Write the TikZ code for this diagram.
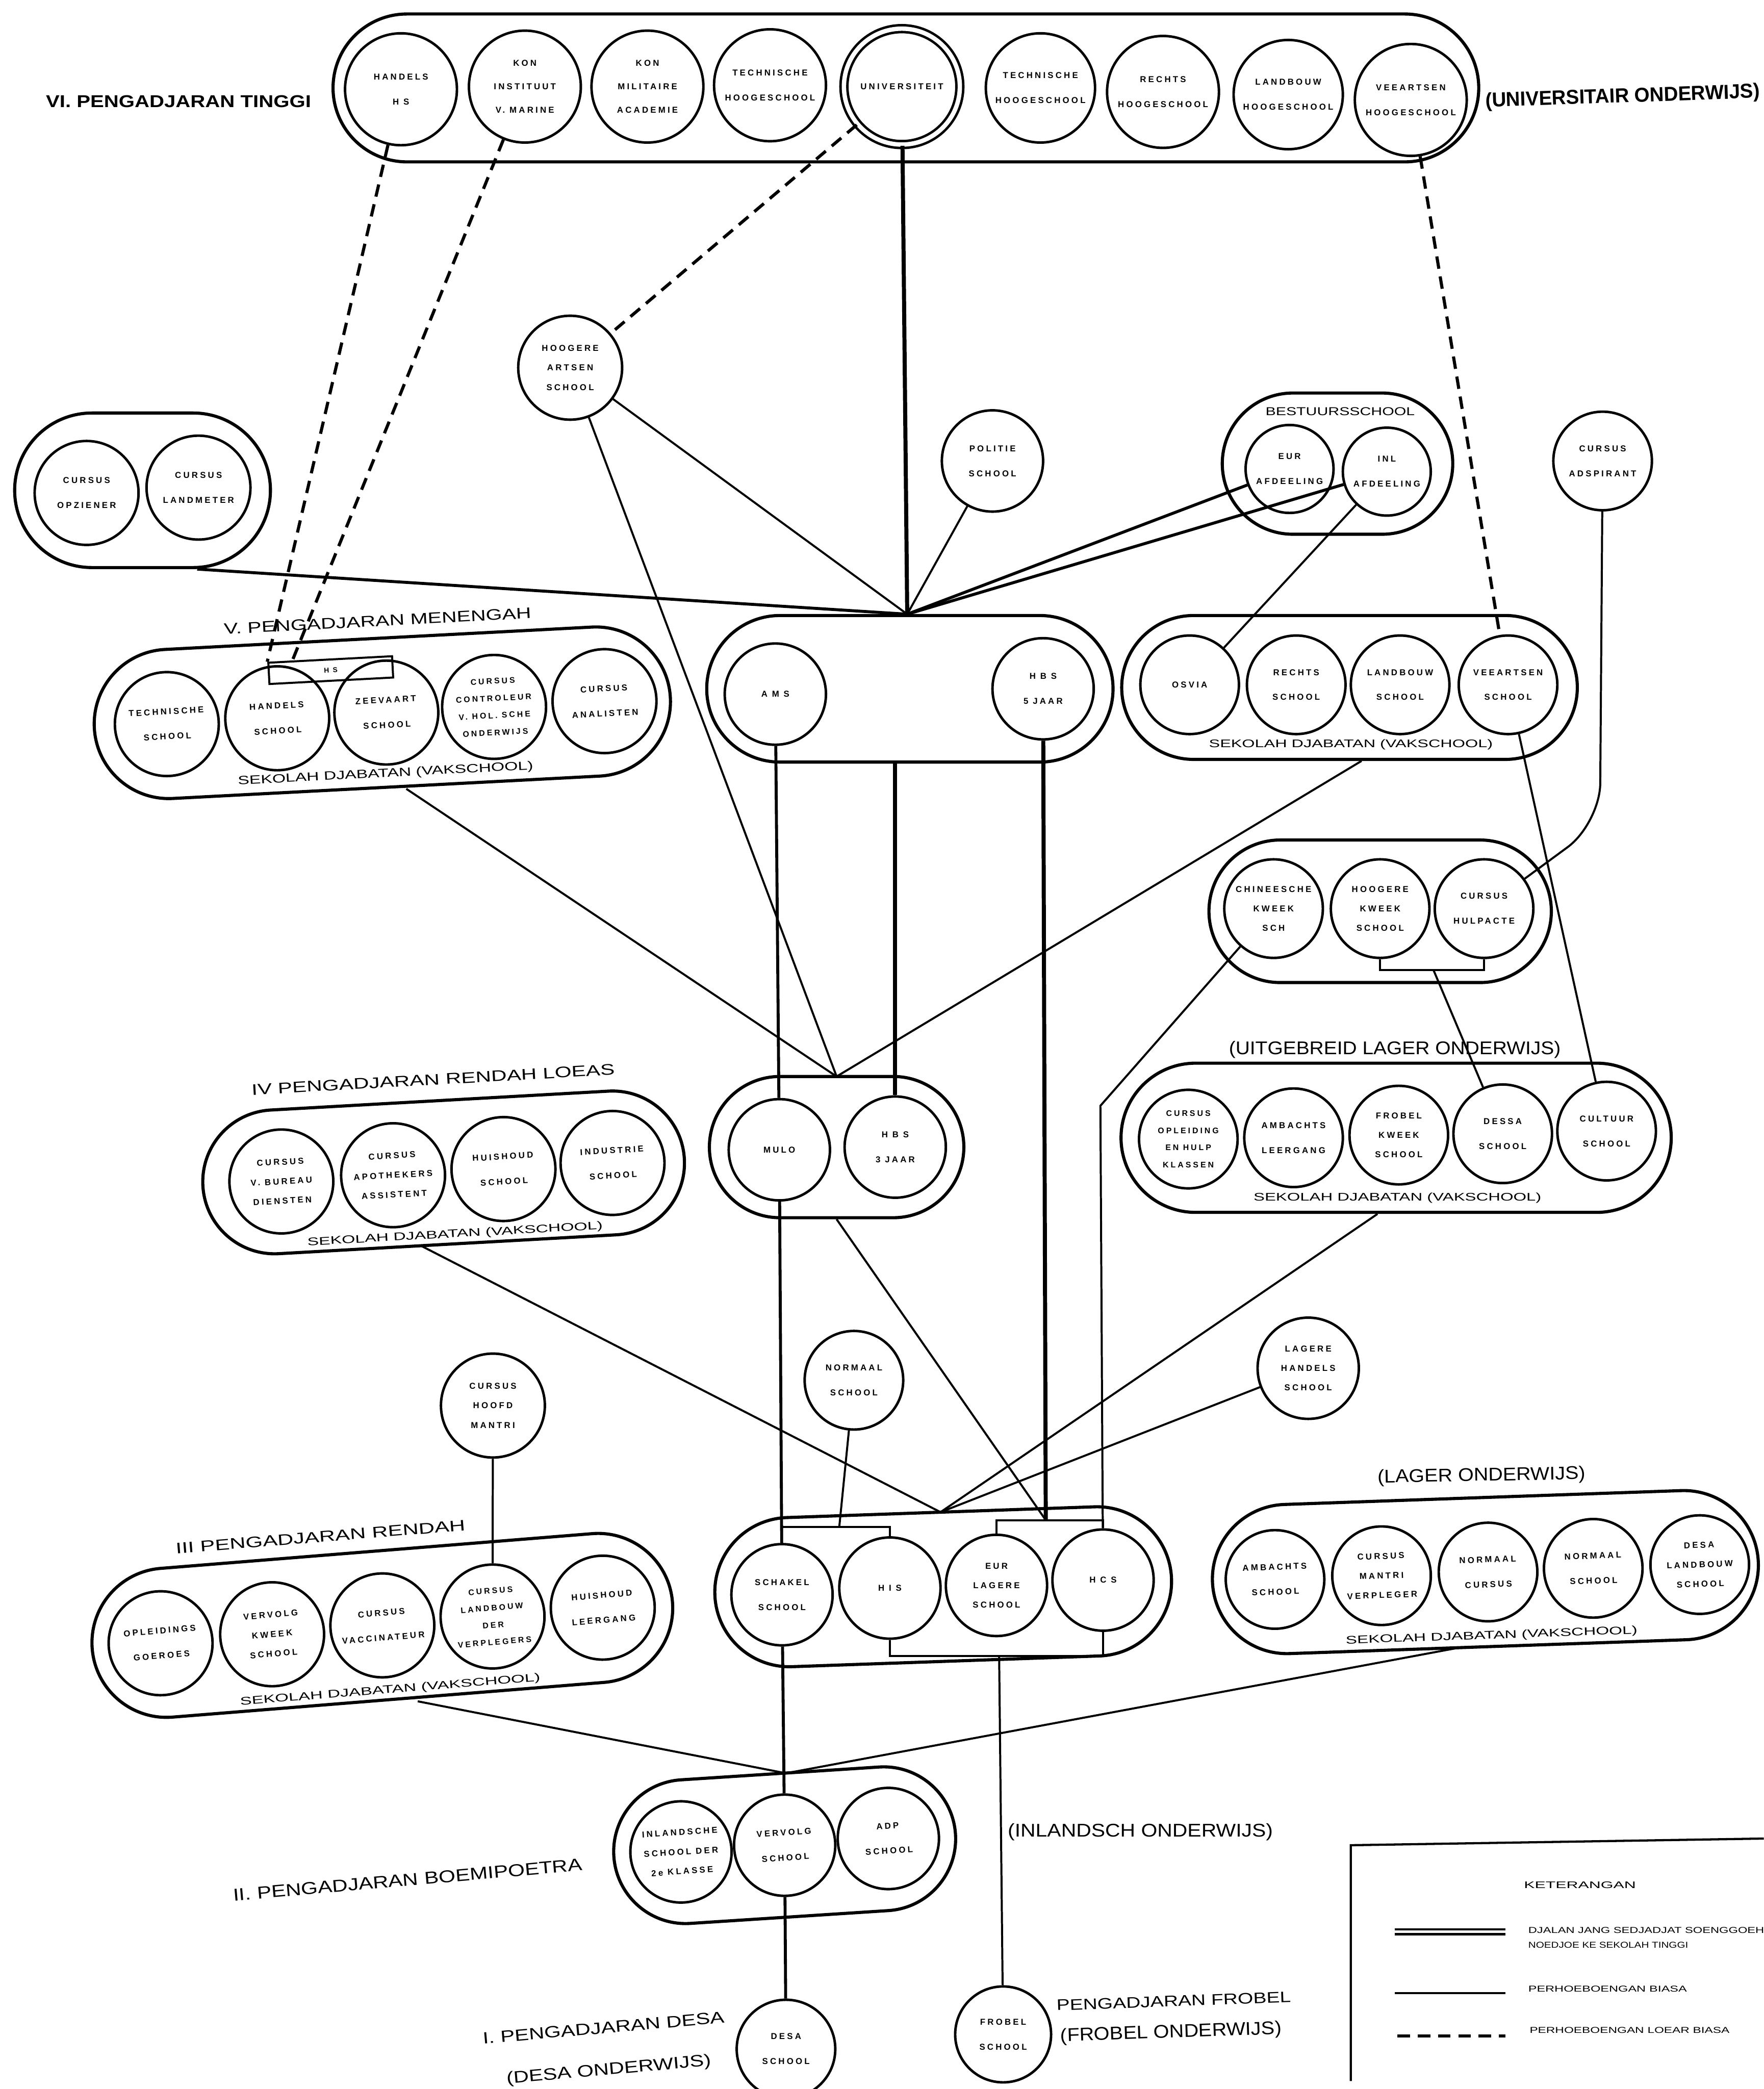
\documentclass[tikz,border=0pt]{standalone}
\usepackage{fontspec}
\setmainfont{Liberation Sans}
\newfontfamily\cf[LetterSpace=25]{Liberation Sans}
\usetikzlibrary{shapes.misc,calc}
\newlength\unitpx
\setlength\unitpx{0.03cm}
\newcommand\LB[3]{\resizebox{#1\unitpx}{#2\unitpx}{#3}}
\begin{document}
\begin{tikzpicture}[x=0.03cm,y=-0.03cm,
  circ/.style={circle,draw,line width=1.6pt,inner sep=0pt,minimum size=#1*0.06cm},
  cont/.style={rounded rectangle,draw,line width=2pt,inner sep=0pt},
  wd/.style={minimum width=#1*0.03cm},
  ht/.style={minimum height=#1*0.03cm},
  c1/.style={font=\cf\bfseries\fontsize{5.5}{12}\selectfont,align=center},
  c2/.style={font=\cf\bfseries\fontsize{5.5}{16}\selectfont,align=center},
  c3/.style={font=\cf\bfseries\fontsize{5.5}{12.5}\selectfont,align=center},
  c3t/.style={font=\cf\bfseries\fontsize{5.5}{15}\selectfont,align=center},
  c4/.style={font=\cf\bfseries\fontsize{5.2}{11}\selectfont,align=center},
  lab/.style={inner sep=0pt},
  ln/.style={line width=1.3pt},
  mid/.style={line width=1.9pt},
  thk/.style={line width=2.6pt},
  dsh/.style={line width=2pt,dash pattern=on 8pt off 5pt}]
\fill[white] (0,0) rectangle (1324,1568);
\useasboundingbox (0,0) rectangle (1324,1568);

% ---------- VI. Pengadjaran tinggi
\node[cont,wd=860,ht=111] (top) at (680,66) {};
\node[circ=42,label={[c2]center:HANDELS\\H S}] (handels) at (301,67) {};
\node[circ=42,label={[c3t]center:KON\\INSTITUUT\\V. MARINE}] (koninst) at (394,65) {};
\node[circ=42,label={[c3t]center:KON\\MILITAIRE\\ACADEMIE}] (konmil) at (486,65) {};
\node[circ=42,label={[c2]center:TECHNISCHE\\HOOGESCHOOL}] (tech1) at (578,64) {};
\node[circ=43.5,double,double distance=2.8pt,label={[c1]center:UNIVERSITEIT}] (univ) at (677,65) {};
\node[circ=41,label={[c2]center:TECHNISCHE\\HOOGESCHOOL}] (tech2) at (781,66) {};
\node[circ=42,label={[c2]center:RECHTS\\HOOGESCHOOL}] (rechts) at (873,69) {};
\node[circ=41,label={[c2]center:LANDBOUW\\HOOGESCHOOL}] (landb) at (967,71) {};
\node[circ=42,label={[c2]center:VEEARTSEN\\HOOGESCHOOL}] (vhs) at (1059,75) {};
\node[lab] (tVI) at (134,76) {\bfseries\LB{199}{9}{VI. PENGADJARAN TINGGI}};
\node[lab,rotate=2] (tUO) at (1218,73) {\bfseries\LB{206}{11}{(UNIVERSITAIR ONDERWIJS)}};

% ---------- between VI and V
\node[circ=39,label={[c3]center:HOOGERE\\ARTSEN\\SCHOOL}] (has) at (428,276) {};
\node[cont,wd=192,ht=116] (cur) at (107,368) {};
\node[circ=39,label={[c2]center:CURSUS\\OPZIENER}] (cur1) at (65,370) {};
\node[circ=39,label={[c2]center:CURSUS\\LANDMETER}] (cur2) at (149,366) {};
\node[circ=38,label={[c2]center:POLITIE\\SCHOOL}] (pol) at (745,346) {};
\node[cont,wd=173,ht=106] (best) at (1004,348) {};
\node[lab] (tBest) at (1006,309) {\LB{112}{6}{BESTUURSSCHOOL}};
\node[circ=33,label={[c2]center:EUR\\AFDEELING}] (eur) at (968,352) {};
\node[circ=33,label={[c2]center:INL\\AFDEELING}] (inl) at (1041,354) {};
\node[circ=37,label={[c2]center:CURSUS\\ADSPIRANT}] (crs) at (1203,346) {};
\coordinate (hub) at (681,461);

% ---------- V. Pengadjaran menengah (left)
\begin{scope}[shift={(287,535)},rotate=3,transform shape]
\node[cont,wd=433,ht=112] (vl) at (0,0) {};
\node[circ=39,label={[c2]center:TECHNISCHE\\SCHOOL}] (vl1) at (-162,0) {};
\node[circ=39,label={[c2]center:HANDELS\\SCHOOL}] (vl2) at (-79,0) {};
\node[circ=39,label={[c2]center:ZEEVAART\\SCHOOL}] (vl3) at (3,0) {};
\node[circ=39,label={[c4]center:CURSUS\\CONTROLEUR\\V. HOL. SCHE\\ONDERWIJS}] (vl4) at (84,0) {};
\node[circ=39,label={[c2]center:CURSUS\\ANALISTEN}] (vl5) at (167,0) {};
\node[draw,line width=1.3pt,minimum width=93*0.03cm,minimum height=16*0.03cm,inner sep=0pt,font=\cf\bfseries\fontsize{4.5}{5}\selectfont] (mhs) at (-37,-34) {H S};
\node[lab] (tV) at (0,-69) {\LB{231}{8}{V. PENGADJARAN MENENGAH}};
\node[lab] (sV) at (0,46) {\LB{222}{6.5}{SEKOLAH DJABATAN (VAKSCHOOL)}};
\end{scope}

% ---------- V middle
\node[cont,wd=305,ht=110] (vmid) at (683,517) {};
\node[circ=38,label={[c1]center:A M S}] (ams) at (582,521) {};
\node[circ=38,label={[c2]center:H B S\\5 JAAR}] (hbs5) at (783,517) {};

% ---------- V right
\node[cont,wd=342,ht=108] (vr) at (1013,516) {};
\node[circ=37,label={[c1]center:OSVIA}] (osvia) at (893,514) {};
\node[circ=37,label={[c2]center:RECHTS\\SCHOOL}] (vr2) at (973,514) {};
\node[circ=37,label={[c2]center:LANDBOUW\\SCHOOL}] (vr3) at (1051,514) {};
\node[circ=37,label={[c2]center:VEEARTSEN\\SCHOOL}] (vs) at (1132,514) {};
\node[lab] (sVr) at (1014,559) {\LB{213}{6}{SEKOLAH DJABATAN (VAKSCHOOL)}};

% ---------- upper uitgebreid group
\node[cont,wd=257,ht=107] (uu) at (1036,684) {};
\node[circ=37,label={[c3]center:CHINEESCHE\\KWEEK\\SCH}] (chin) at (956,682) {};
\node[circ=37,label={[c3]center:HOOGERE\\KWEEK\\SCHOOL}] (hkw) at (1036,682) {};
\node[circ=37,label={[c2]center:CURSUS\\HULPACTE}] (hulp) at (1114,682) {};
\coordinate (brU) at (1076,728);
\coordinate (crsB) at (1201,618);
\coordinate (bendC) at (826,830);

% ---------- MULO
\node[cont,wd=191,ht=106] (mc) at (628,861) {};
\node[circ=38,label={[c1]center:MULO}] (mulo) at (585,863) {};
\node[circ=38,label={[c2]center:H B S\\3 JAAR}] (hbs3) at (672,861) {};
\coordinate (P1) at (628,808);

% ---------- IV left
\begin{scope}[shift={(333,880)},rotate=3.2,transform shape]
\node[cont,wd=362,ht=108] (ivl) at (0,0) {};
\node[circ=39,label={[c3]center:CURSUS\\V. BUREAU\\DIENSTEN}] (ivl1) at (-122,0) {};
\node[circ=39,label={[c3]center:CURSUS\\APOTHEKERS\\ASSISTENT}] (ivl2) at (-38,0) {};
\node[circ=39,label={[c2]center:HUISHOUD\\SCHOOL}] (ivl3) at (45,0) {};
\node[circ=39,label={[c2]center:INDUSTRIE\\SCHOOL}] (ivl4) at (127,0) {};
\node[lab] (tIV) at (-4,-70) {\LB{273}{8}{IV PENGADJARAN RENDAH LOEAS}};
\node[lab] (sIV) at (6,47) {\LB{222}{6}{SEKOLAH DJABATAN (VAKSCHOOL)}};
\end{scope}

% ---------- IV right
\node[cont,wd=413,ht=112] (ivr) at (1048,854) {};
\node[circ=37,label={[c4]center:CURSUS\\OPLEIDING\\EN HULP\\KLASSEN}] (ivr1) at (892,855) {};
\node[circ=37,label={[c2]center:AMBACHTS\\LEERGANG}] (ivr2) at (971,854) {};
\node[circ=37,label={[c3]center:FROBEL\\KWEEK\\SCHOOL}] (ivr3) at (1050,852) {};
\node[circ=37,label={[c2]center:DESSA\\SCHOOL}] (d4) at (1128,851) {};
\node[circ=37,label={[c2]center:CULTUUR\\SCHOOL}] (cult) at (1206,849) {};
\node[lab] (tUL) at (1047,788) {\LB{249}{10}{(UITGEBREID LAGER ONDERWIJS)}};
\node[lab] (sIVr) at (1049,899) {\LB{216}{6}{SEKOLAH DJABATAN (VAKSCHOOL)}};

% ---------- single circles
\node[circ=38,label={[c3]center:LAGERE\\HANDELS\\SCHOOL}] (lhs) at (982,1027) {};
\node[circ=37,label={[c2]center:NORMAAL\\SCHOOL}] (normaal) at (641,1036) {};
\node[circ=39,label={[c3]center:CURSUS\\HOOFD\\MANTRI}] (chd) at (370,1055) {};

% ---------- III left
\begin{scope}[shift={(287,1220)},rotate=4.6,transform shape]
\node[cont,wd=437,ht=112] (iiil) at (0,0) {};
\node[circ=39,label={[c2]center:OPLEIDINGS\\GOEROES}] (iiil1) at (-167,0) {};
\node[circ=39,label={[c3]center:VERVOLG\\KWEEK\\SCHOOL}] (iiil2) at (-83,0) {};
\node[circ=39,label={[c2]center:CURSUS\\VACCINATEUR}] (iiil3) at (0,0) {};
\node[circ=39,label={[c4]center:CURSUS\\LANDBOUW\\DER\\VERPLEGERS}] (iiil4) at (83,0) {};
\node[circ=39,label={[c2]center:HUISHOUD\\LEERGANG}] (iiil5) at (166,0) {};
\node[lab] (tIII) at (-41,-70) {\LB{218}{8}{III PENGADJARAN RENDAH}};
\node[lab] (sIII) at (2,49) {\LB{226}{6}{SEKOLAH DJABATAN (VAKSCHOOL)}};
\end{scope}

% ---------- III middle
\node[cont,wd=343,ht=112,rotate=2] (iiim) at (708,1191) {};
\node[circ=38,label={[c2]center:SCHAKEL\\SCHOOL}] (schk) at (587,1197) {};
\node[circ=38,label={[c1]center:H I S}] (his) at (668,1192) {};
\node[circ=38,label={[c3]center:EUR\\LAGERE\\SCHOOL}] (els) at (748,1190) {};
\node[circ=38,label={[c1]center:H C S}] (hcs) at (828,1186) {};
\coordinate (brL) at (630,1146);
\coordinate (brR) at (785,1141);
\coordinate (brB) at (750,1243);
\coordinate (H3) at (706,1135);

% ---------- Lager onderwijs
\begin{scope}[shift={(1115,1180)},rotate=2,transform shape]
\node[cont,wd=410,ht=112] (lag) at (0,0) {};
\node[circ=37,label={[c2]center:AMBACHTS\\SCHOOL}] (lag1) at (-158,0) {};
\node[circ=37,label={[c3]center:CURSUS\\MANTRI\\VERPLEGER}] (lag2) at (-78,0) {};
\node[circ=37,label={[c2]center:NORMAAL\\CURSUS}] (lag3) at (2,0) {};
\node[circ=37,label={[c2]center:NORMAAL\\SCHOOL}] (lag4) at (81,0) {};
\node[circ=37,label={[c3]center:DESA\\LANDBOUW\\SCHOOL}] (lag5) at (161,0) {};
\node[lab] (sLag) at (3,48) {\LB{219}{6}{SEKOLAH DJABATAN (VAKSCHOOL)}};
\end{scope}
\node[lab,rotate=1] (tLag) at (1112,1108) {\LB{156}{10}{(LAGER ONDERWIJS)}};

% ---------- II Boemipoetra
\begin{scope}[shift={(589,1385)},rotate=3.7,transform shape]
\node[cont,wd=257,ht=108] (boemi) at (0,0) {};
\node[circ=38,label={[c3]center:INLANDSCHE\\SCHOOL DER\\2e KLASSE}] (inl2) at (-78,0) {};
\node[circ=38,label={[c2]center:VERVOLG\\SCHOOL}] (vervolg) at (0,0) {};
\node[circ=38,label={[c2]center:ADP\\SCHOOL}] (b3) at (78,0) {};
\end{scope}
\coordinate (H1) at (590,1331);
\node[lab,rotate=5] (tII) at (306,1411) {\LB{263}{9}{II. PENGADJARAN BOEMIPOETRA}};
\node[lab] (tInl) at (856,1375) {\LB{199}{10}{(INLANDSCH ONDERWIJS)}};

% ---------- I Desa / Frobel
\node[circ=37,label={[c2]center:DESA\\SCHOOL}] (desa) at (590,1538) {};
\node[circ=36,label={[c2]center:FROBEL\\SCHOOL}] (frobel) at (753,1527) {};
\node[lab,rotate=5] (tI) at (453,1522) {\LB{182}{8.5}{I. PENGADJARAN DESA}};
\node[lab,rotate=5] (tIdesa) at (457,1554) {\LB{154}{9}{(DESA ONDERWIJS)}};
\node[lab,rotate=2] (tFr) at (881,1502) {\LB{176}{8}{PENGADJARAN FROBEL}};
\node[lab,rotate=2] (tFr2) at (879,1526) {\LB{166}{10}{(FROBEL ONDERWIJS)}};

% ---------- connectors
\draw[dsh] (handels) -- (mhs.north west);
\draw[dsh] (koninst) -- ($(mhs.north west)!0.2!(mhs.north east)$);
\draw[dsh] (univ) -- (has);
\draw[dsh] (vhs) -- (vs);

\draw[thk] (univ) -- (hub);
\draw[mid] ($(cur.south)+(41,0)$) -- (hub);
\draw[ln] (has) -- (hub);
\draw[ln] (has) -- (P1);
\draw[ln] (pol) -- (hub);
\draw[mid] (eur) -- (hub);
\draw[mid] (inl) -- (hub);
\draw[ln] (inl) -- (osvia);
\draw[ln,rounded corners=0.9cm] (crs) -- (crsB) -- (hulp);

\draw[ln] ($(vl.south)+(15,0)$) -- (P1);
\draw[ln] ($(vr.south)+(9,0)$) -- (P1);
\draw[mid] (ams) -- (mulo);
\draw[thk] (hbs3 |- vmid.south) -- (hbs3);
\draw[thk] (hbs5) -- (brR);
\draw[ln] (vs) -- (cult);
\draw[ln] (chin) -- (bendC) -- (hcs);
\draw[ln] (hkw.south) |- (brU) -| (hulp.south);
\draw[ln] (brU) -- (d4);

\draw[ln] (mc.south) -- (brR);
\draw[ln] ($(ivl.south)+(-20,0)$) -- (H3);
\draw[ln] ($(ivr.south)+(-14,0)$) -- (H3);
\draw[ln] (lhs) -- (H3);
\draw[mid] (mulo) -- (schk);
\draw[ln] (normaal) -- (brL);
\draw[ln] (chd) -- (iiil4);
\draw[ln] (schk.north) |- (brL) -| (his.north);
\draw[ln] (els.north) |- (brR) -| (hcs.north);
\draw[ln] (his.south) |- (brB) -| (hcs.south);
\draw[ln] (brB) -- (frobel);
\draw[ln] ($(iiil.south)+(22,0)$) -- (H1);
\draw[ln] ($(lag.south)+(-24,0)$) -- (H1);
\draw[mid] (schk) -- (vervolg);
\draw[mid] (vervolg) -- (desa);

% ---------- legend
\draw[line width=1.4pt] (1014,1562) -- (1014,1385) -- (1324,1380);
\node[lab] (kt) at (1186,1415) {\LB{84}{5}{KETERANGAN}};
\draw[line width=1.5pt,double,double distance=1.6pt] (1047,1450) -- (1130,1450);
\node[lab,anchor=west] (k1a) at (1147,1449) {\LB{177}{4.5}{DJALAN JANG SEDJADJAT SOENGGOEH}};
\node[lab,anchor=west] (k1b) at (1147,1460) {\LB{120}{4.5}{NOEDJOE KE SEKOLAH TINGGI}};
\draw[ln] (1047,1496) -- (1130,1496);
\node[lab,anchor=west] (k2) at (1147,1493) {\LB{119}{4.5}{PERHOEBOENGAN BIASA}};
\draw[dsh] (1049,1528) -- (1130,1528);
\node[lab,anchor=west] (k3) at (1148,1524) {\LB{150}{4.5}{PERHOEBOENGAN LOEAR BIASA}};
\end{tikzpicture}
\end{document}
